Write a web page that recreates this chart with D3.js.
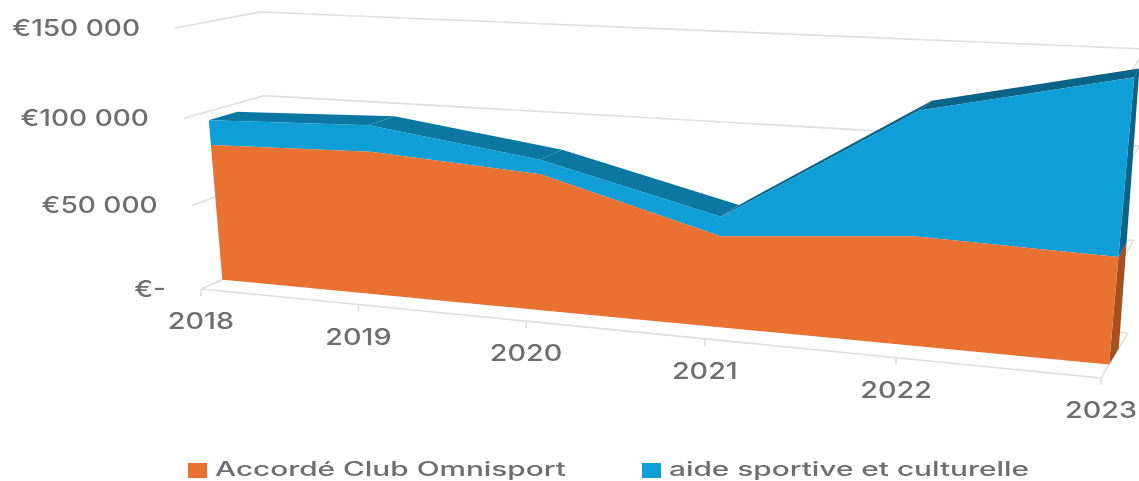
<!DOCTYPE html>
<html>
<head>
<meta charset="utf-8">
<script src="https://cdn.jsdelivr.net/npm/d3@7"></script>
<style>
  html, body { margin: 0; padding: 0; background: #fff; }
  svg { display: block; filter: blur(0.6px); }
  text { font-family: Inter, "Liberation Sans", sans-serif; font-weight: 500; fill: #6e6e6e; }
</style>
</head>
<body>
<div id="chart"></div>
<script>
const years = ["2018", "2019", "2020", "2021", "2022", "2023"];
const clubValues = [80500, 83000, 77000, 50500, 58500, 56000];
const aideValues = [14500, 15000, 8000, 10500, 64500, 88500];
const yTicks = [0, 50000, 100000, 150000];
const yLabels = ["€-", "€50 000", "€100 000", "€150 000"];
const seriesNames = ["Accordé Club Omnisport", "aide sportive et culturelle"];

const width = 1139, height = 481;

const svg = d3.select("#chart").append("svg")
    .attr("width", width)
    .attr("height", height);

const x = d3.scalePoint().domain(years).range([0, 1]);
const y = d3.scaleLinear().domain([0, 150000]).range([0, 1]);

// the two planes of the 3d box, corners: bottom left, bottom right, top right, top left
function homography(q) {
    const [[x0, y0], [x1, y1], [x2, y2], [x3, y3]] = q;
    const dx1 = x1 - x2, dx2 = x3 - x2, sx = x0 - x1 + x2 - x3;
    const dy1 = y1 - y2, dy2 = y3 - y2, sy = y0 - y1 + y2 - y3;
    const det = dx1 * dy2 - dx2 * dy1;
    const g = (sx * dy2 - dx2 * sy) / det;
    const h = (dx1 * sy - sx * dy1) / det;
    const a = x1 - x0 + g * x1, b = x3 - x0 + h * x3;
    const d = y1 - y0 + g * y1, e = y3 - y0 + h * y3;
    return (u, v) => {
        const w = g * u + h * v + 1;
        return [(a * u + b * v + x0) / w, (d * u + e * v + y0) / w];
    };
}
const frontPlane = homography([[201, 289], [1101, 378], [1131, 73], [175, 28]]);
const backPlane = homography([[272, 258], [1128, 333], [1145, 49], [260, 12]]);

// depth 0 = axis side, depth 1 = back wall
function project(year, value, depth) {
    const f = frontPlane(x(year), y(value));
    const b = backPlane(x(year), y(value));
    return [f[0] + (b[0] - f[0]) * depth, f[1] + (b[1] - f[1]) * depth];
}
const depthFront = 0.3, depthBack = 0.66;

const path = d3.line();
const total = clubValues.map((d, i) => d + aideValues[i]);

// text is stretched sideways in the original
function stretched(sel, px, py, sx) {
    sel.attr("transform", `translate(${px},${py}) scale(${sx},1)`);
}

// gridlines
const grid = svg.append("g").attr("fill", "none").attr("stroke", "#dedede").attr("stroke-width", 1.6);
yTicks.forEach(t => {
    const first = years[0], last = years[years.length - 1];
    grid.append("path").attr("d", path([
        project(first, t, 0), project(first, t, 1), project(last, t, 1), project(last, t, 0)
    ]));
});

// axis line and ticks
grid.append("path").attr("d", path([project(years[0], 0, 0), project(years[years.length - 1], 0, 0)]));
years.forEach(yr => {
    const p = project(yr, 0, 0);
    grid.append("path").attr("d", path([p, [p[0], p[1] + 7]]));
});

// top faces of the blue band
d3.pairs(years.map((yr, i) => ({ yr, v: total[i] }))).forEach(([a, b]) => {
    svg.append("path")
        .attr("d", path([
            project(a.yr, a.v, depthFront), project(b.yr, b.v, depthFront),
            project(b.yr, b.v, depthBack), project(a.yr, a.v, depthBack)
        ]) + "Z")
        .attr("fill", b.v - a.v > 20000 ? "#0a6487" : "#0c77a2");
});

// right side faces
const lastYear = years[years.length - 1];
const lastClub = clubValues[clubValues.length - 1];
const lastTotal = total[total.length - 1];
[[0, lastClub, "#a4511f"], [lastClub, lastTotal, "#0a6487"]].forEach(([v0, v1, col]) => {
    svg.append("path")
        .attr("d", path([
            project(lastYear, v0, depthFront), project(lastYear, v1, depthFront),
            project(lastYear, v1, depthBack), project(lastYear, v0, depthBack)
        ]) + "Z")
        .attr("fill", col);
});

// front faces
const area = (lo, hi) => path(
    years.map((yr, i) => project(yr, hi[i], depthFront))
        .concat(years.map((yr, i) => project(yr, lo[i], depthFront)).reverse())
) + "Z";

svg.append("path")
    .attr("d", area(clubValues, total))
    .attr("fill", "#0f9ed5");
svg.append("path")
    .attr("d", area(years.map(() => 0), clubValues))
    .attr("fill", "#e97132");

// y labels
svg.append("g").selectAll("text")
    .data(yTicks)
    .enter()
    .append("text")
    .attr("dy", "0.35em")
    .attr("text-anchor", "end")
    .attr("font-size", 23)
    .text((d, i) => yLabels[i])
    .each(function (d) {
        const p = project(years[0], d, 0);
        stretched(d3.select(this), p[0] - 35, p[1], 1.22);
    });

// x labels
svg.append("g").selectAll("text")
    .data(years)
    .enter()
    .append("text")
    .attr("dy", "0.35em")
    .attr("text-anchor", "middle")
    .attr("font-size", 23)
    .text(d => d)
    .each(function (d) {
        const p = project(d, 0, 0);
        stretched(d3.select(this), p[0], p[1] + 32, 1.25);
    });

// legend
const legend = svg.append("g");
[[188, "#e97132"], [642, "#0f9ed5"]].forEach(([lx, col], i) => {
    legend.append("rect")
        .attr("x", lx).attr("y", 463)
        .attr("width", 19).attr("height", 15)
        .attr("fill", col);
    const label = legend.append("text")
        .attr("font-size", 20)
        .text(seriesNames[i]);
    stretched(label, lx + 27, 476, 1.49);
});
</script>
</body>
</html>
